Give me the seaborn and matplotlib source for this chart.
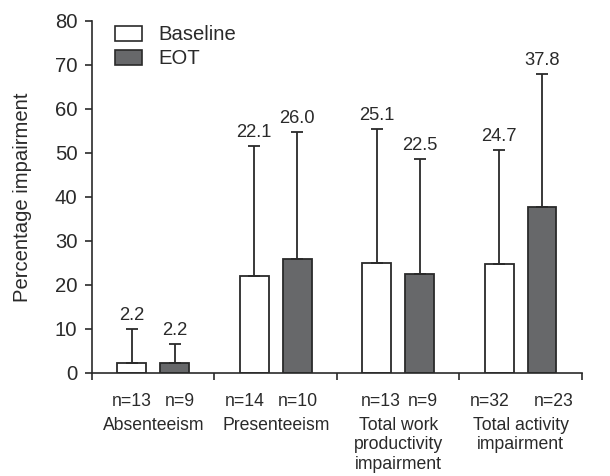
import matplotlib
matplotlib.use("Agg")
import matplotlib.pyplot as plt
from matplotlib.patches import Patch
import matplotlib.transforms as mtransforms
import seaborn as sns
import pandas as pd

categories = ["Absenteeism", "Presenteeism", "Total work\nproductivity\nimpairment",
              "Total activity\nimpairment"]
groups = ["Baseline", "EOT"]
baseline_mean = [2.2, 22.1, 25.1, 24.7]
eot_mean = [2.2, 26.0, 22.5, 37.8]
baseline_upper = [10.0, 51.7, 55.5, 50.6]
eot_upper = [6.7, 54.7, 48.7, 68.0]
baseline_n = ["n=13", "n=14", "n=13", "n=32"]
eot_n = ["n=9", "n=10", "n=9", "n=23"]
y_ticks = [0, 10, 20, 30, 40, 50, 60, 70, 80]

# horizontal nudges (points) of the n= labels, as laid out in the original figure
baseline_n_shift = [0, -7, 2.9, -7]
eot_n_shift = [4, 0.7, 2.2, 8.6]

dark = "#2a2a2a"
colors = {"Baseline": "#ffffff", "EOT": "#67686a"}
FS = 12.7
FS_VAL = 13.2
FS_BIG = 14.6

sns.set_style("ticks")
plt.rcParams["font.family"] = ["Liberation Sans", "DejaVu Sans"]
plt.rcParams["text.color"] = dark
plt.rcParams["axes.labelcolor"] = dark
plt.rcParams["xtick.color"] = dark
plt.rcParams["ytick.color"] = dark

df = pd.DataFrame({
    "cat": categories * 2,
    "group": [groups[0]] * 4 + [groups[1]] * 4,
    "value": baseline_mean + eot_mean,
})

fig = plt.figure(figsize=(6.1, 4.76), dpi=100)
ax = fig.add_axes([0.1508, 0.2164, 0.954 - 0.1508, 0.9559 - 0.2164])

sns.barplot(data=df, x="cat", y="value", hue="group", hue_order=groups,
            order=categories, palette=colors, width=0.7, gap=0.33,
            edgecolor=dark, linewidth=1.3, errorbar=None, legend=False, ax=ax)

uppers = {"Baseline": baseline_upper, "EOT": eot_upper}
means = {"Baseline": baseline_mean, "EOT": eot_mean}
nlabels = {"Baseline": baseline_n, "EOT": eot_n}
nshift = {"Baseline": baseline_n_shift, "EOT": eot_n_shift}
ntrans = mtransforms.blended_transform_factory(ax.transData, ax.transAxes)

for gi, (g, container) in enumerate(zip(groups, ax.containers)):
    for i, bar in enumerate(container):
        xc = bar.get_x() + bar.get_width() / 2
        m = means[g][i]
        up = uppers[g][i]
        ax.errorbar([xc], [m], yerr=[[0], [up - m]], fmt="none", ecolor=dark,
                    elinewidth=1.3, capsize=4.5, capthick=1.3, zorder=1)
        ax.annotate(f"{m:.1f}", (xc, up), xytext=(0, 3.5), textcoords="offset points",
                    ha="center", va="bottom", fontsize=FS_VAL)
        ax.annotate(nlabels[g][i], (xc, -0.082), xycoords=ntrans,
                    xytext=(nshift[g][i], 0), textcoords="offset points",
                    ha="center", va="center", fontsize=FS, annotation_clip=False)

for i, c in enumerate(categories):
    ax.text(i, -0.124, c, transform=ntrans, ha="center", va="top", fontsize=FS,
            multialignment="center")

ax.set_xlim(-0.5, 3.5)
ax.set_ylim(0, 80)
ax.set_yticks(y_ticks)
ax.set_xticks([-0.5, 0.5, 1.5, 2.5, 3.5])
ax.set_xticklabels([])
ax.tick_params(axis="x", length=5, width=1.2, direction="out")
ax.tick_params(axis="y", length=5, width=1.2, direction="out", labelsize=FS_BIG, pad=5.5)
ax.set_xlabel("")
ax.set_ylabel("Percentage impairment", fontsize=FS_BIG)
ax.yaxis.set_label_coords(-0.122, 0.5)
for s in ["left", "bottom"]:
    ax.spines[s].set_linewidth(1.2)
    ax.spines[s].set_color(dark)
sns.despine(ax=ax)

handles = [Patch(facecolor=colors[g], edgecolor=dark, linewidth=1.2, label=g) for g in groups]
ax.legend(handles=handles, loc="upper left", bbox_to_anchor=(0.047, 0.988), frameon=False,
          fontsize=FS_BIG, handlelength=1.35, handleheight=0.75, handletextpad=0.8,
          labelspacing=0.25, borderaxespad=0, borderpad=0)

fig.savefig("out.png", dpi=100)
